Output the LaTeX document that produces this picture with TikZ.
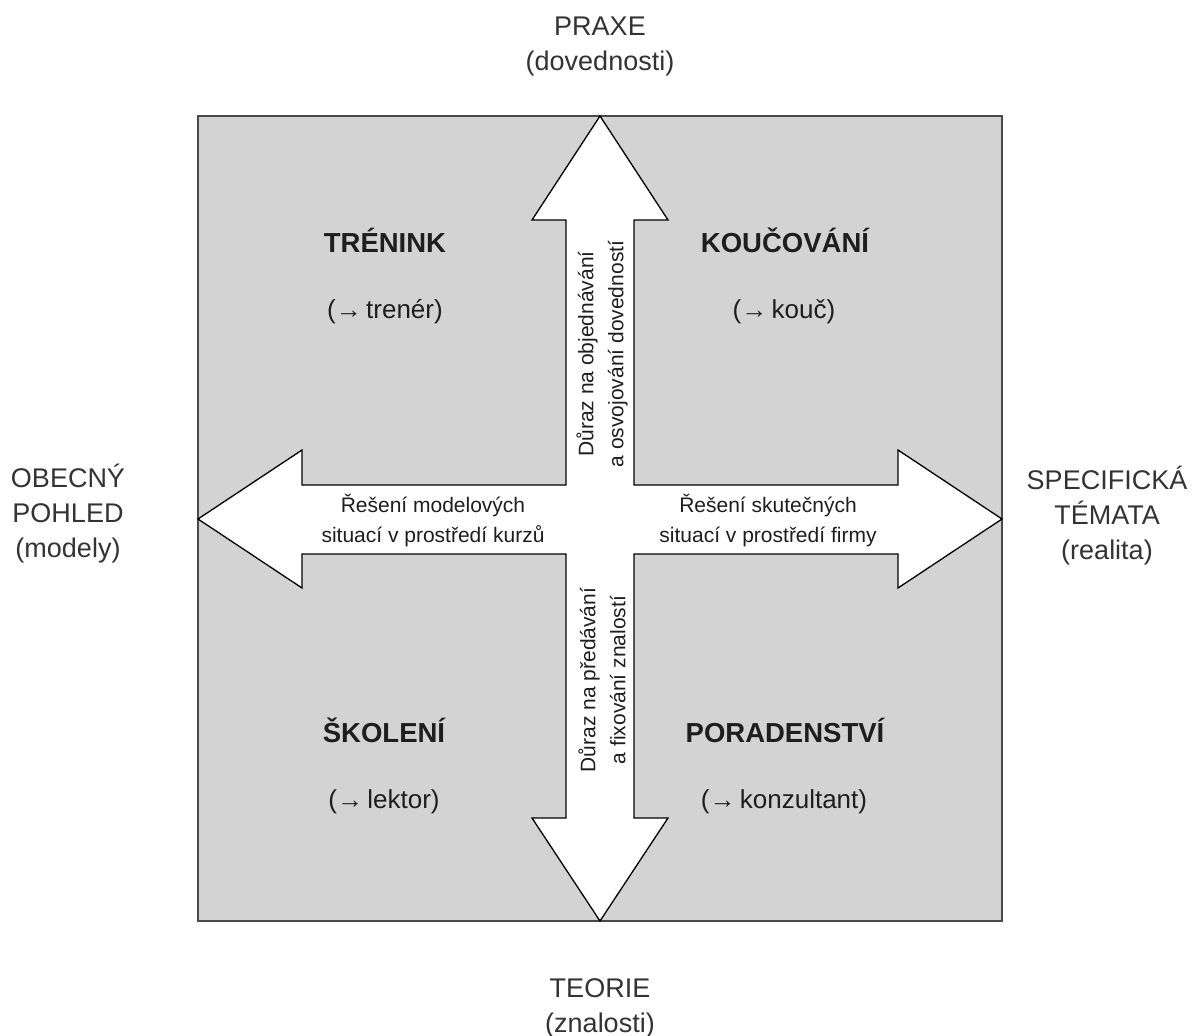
\documentclass[tikz,border=0pt]{standalone}
\usepackage{fontspec}
\setmainfont{Liberation Sans}
\definecolor{boxgray}{HTML}{D3D3D3}
\definecolor{edgegray}{HTML}{4A4A4A}
\definecolor{txtdark}{HTML}{1E1E1E}
\definecolor{txtouter}{HTML}{333333}
\begin{document}
\begin{tikzpicture}[x=1pt,y=-1pt,
  quad/.style={font=\bfseries\fontsize{27.5}{30}\selectfont, text=txtdark, inner sep=0pt},
  role/.style={font=\fontsize{26}{30}\selectfont, text=txtdark, inner sep=0pt},
  armtext/.style={font=\fontsize{21}{30}\selectfont, text=txtdark, align=center, inner sep=0pt},
  outer/.style={font=\fontsize{27}{35}\selectfont, text=txtouter, align=center, inner sep=0pt}]
\useasboundingbox (0,0) rectangle (1195,1036);
% gray square
\draw[fill=boxgray, draw=edgegray, line width=2pt] (198,116) rectangle (1002,921);
% four-way arrow
\draw[fill=white, draw=black, line width=1.3pt, line join=miter]
  (600,116) -- (668,220) -- (634,220) -- (634,485) -- (898,485) -- (898,450)
  -- (1002,519) -- (898,588) -- (898,554) -- (634,554) -- (634,818) -- (668,818)
  -- (600,921) -- (532,818) -- (566,818) -- (566,554) -- (302,554) -- (302,588)
  -- (198,519) -- (302,450) -- (302,485) -- (566,485) -- (566,220) -- (532,220) -- cycle;
% quadrant labels
\node[quad] (tren) at (385,240) {TRÉNINK};
\node[role] (trenr) at (385,312) {(→\,trenér)};
\node[quad] (kouc) at (785,240) {KOUČOVÁNÍ};
\node[role] (koucr) at (784,312) {(→\,kouč)};
\node[quad] (skol) at (384,730) {ŠKOLENÍ};
\node[role] (skolr) at (384,802) {(→\,lektor)};
\node[quad] (pora) at (785,730) {PORADENSTVÍ};
\node[role] (porar) at (784,802) {(→\,konzultant)};
% arm texts
\node[armtext] (left) at (433,520) {Řešení modelových\\situací v prostředí kurzů};
\node[armtext] (right) at (768,520) {Řešení skutečných\\situací v prostředí firmy};
\node[armtext, rotate=90] (up) at (602,354) {Důraz na objednávání\\a osvojování dovedností};
\node[armtext, rotate=90] (down) at (602,680) {Důraz na předávání\\a fixování znalostí};
% outer labels
\node[outer] (praxe) at (600,47) {PRAXE\\(dovednosti)};
\node[outer] (teorie) at (600,1008) {TEORIE\\(znalosti)};
\node[outer] (obec) at (68,514) {OBECNÝ\\POHLED\\(modely)};
\node[outer] (spec) at (1107,516) {SPECIFICKÁ\\TÉMATA\\(realita)};
\end{tikzpicture}
\end{document}
